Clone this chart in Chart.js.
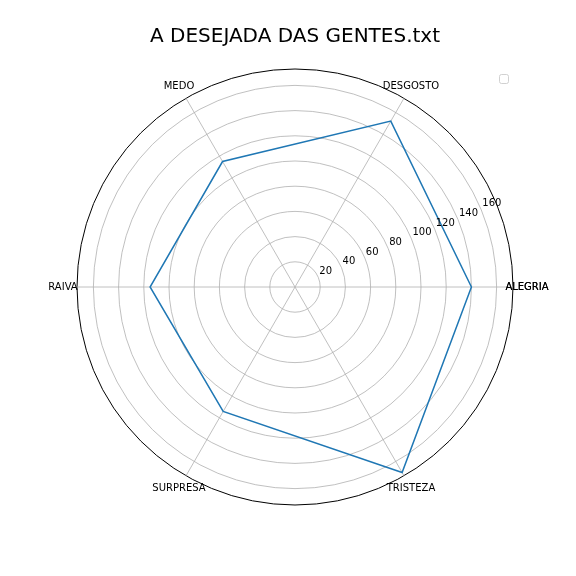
<!DOCTYPE html>
<html>
<head>
<meta charset="utf-8">
<script src="https://cdn.jsdelivr.net/npm/chart.js@4"></script>
<style>
  html, body { margin: 0; padding: 0; background: #fff; }
  #wrap { width: 576px; height: 576px; }
</style>
</head>
<body>
<div id="wrap"><canvas id="radar" width="576" height="576"></canvas></div>
<script>
// emotions, counterclockwise from the right like the original polar plot
let emotions = ['ALEGRIA', 'DESGOSTO', 'MEDO', 'RAIVA', 'SURPRESA', 'TRISTEZA'];
let counts = [140, 152, 115, 115, 114, 170];
let tickValues = [0, 20, 40, 60, 80, 100, 120, 140, 160];
let rMax = 173;
let title = 'A DESEJADA DAS GENTES.txt';

// chart.js goes clockwise, so keep the first one and flip the rest
let order = [0, 5, 4, 3, 2, 1];
let chartLabels = order.map(i => emotions[i]);
let chartCounts = order.map(i => counts[i]);

const font = '"DejaVu Sans", sans-serif';

// draws title, r tick labels, centered angle labels and the empty legend box
const extras = {
    id: 'extras',
    afterDraw(chart) {
        const ctx = chart.ctx;
        const scale = chart.scales.r;
        ctx.save();
        ctx.fillStyle = '#000';

        // title
        ctx.font = '20px ' + font;
        ctx.textAlign = 'center';
        ctx.textBaseline = 'alphabetic';
        ctx.fillText(title, 295, 42);

        // radial tick labels at 22.5 degrees
        ctx.font = '10px ' + font;
        ctx.textAlign = 'left';
        ctx.textBaseline = 'bottom';
        const a = 22.5 * Math.PI / 180;
        tickValues.forEach(v => {
            if (v === 0) return;
            const d = scale.getDistanceFromCenterForValue(v);
            const x = scale.xCenter + d * Math.cos(a);
            const y = scale.yCenter - d * Math.sin(a);
            ctx.fillText(String(v), x + 1, y - 1);
        });

        // angle labels, centered just outside the outer circle
        ctx.textAlign = 'center';
        ctx.textBaseline = 'middle';
        chartLabels.forEach((lab, i) => {
            const p = scale.getPointPosition(i, scale.drawingArea + 14);
            ctx.fillText(lab, p.x, p.y);
            // the 0 and 360 degree labels overlap in the original
            if (i === 0) ctx.fillText(lab, p.x, p.y);
        });

        // empty legend frame
        ctx.strokeStyle = 'rgba(204,204,204,0.9)';
        ctx.lineWidth = 1;
        ctx.fillStyle = '#fff';
        ctx.beginPath();
        ctx.roundRect(499.5, 74.5, 9, 9, 2);
        ctx.fill();
        ctx.stroke();
        ctx.restore();
    }
};

let ctx = document.getElementById('radar').getContext('2d');
let radarChart = new Chart(ctx, {
    type: 'radar',
    data: {
        labels: chartLabels,
        datasets: [
            {
                data: chartCounts,
                borderColor: '#1f77b4',
                borderWidth: 1.5,
                fill: false,
                pointRadius: 0,
                pointHoverRadius: 0,
                tension: 0
            }
        ]
    },
    options: {
        responsive: false,
        animation: false,
        layout: {
            padding: { left: 77, right: 63, top: 69, bottom: 71 }
        },
        plugins: {
            legend: { display: false },
            title: { display: false },
            tooltip: { enabled: false }
        },
        scales: {
            r: {
                min: 0,
                max: rMax,
                startAngle: 90,
                afterBuildTicks: scale => {
                    scale.ticks = tickValues.concat([rMax]).map(v => ({ value: v }));
                },
                ticks: { display: false },
                pointLabels: { display: false },
                grid: {
                    circular: true,
                    // outer ring is the black polar spine
                    color: c => (c.tick && c.tick.value === rMax) ? '#000000' : '#b0b0b0',
                    lineWidth: c => (c.tick && c.tick.value === rMax) ? 1 : 0.8
                },
                angleLines: {
                    color: '#b0b0b0',
                    lineWidth: 0.8
                }
            }
        }
    },
    plugins: [extras]
});
</script>
</body>
</html>
